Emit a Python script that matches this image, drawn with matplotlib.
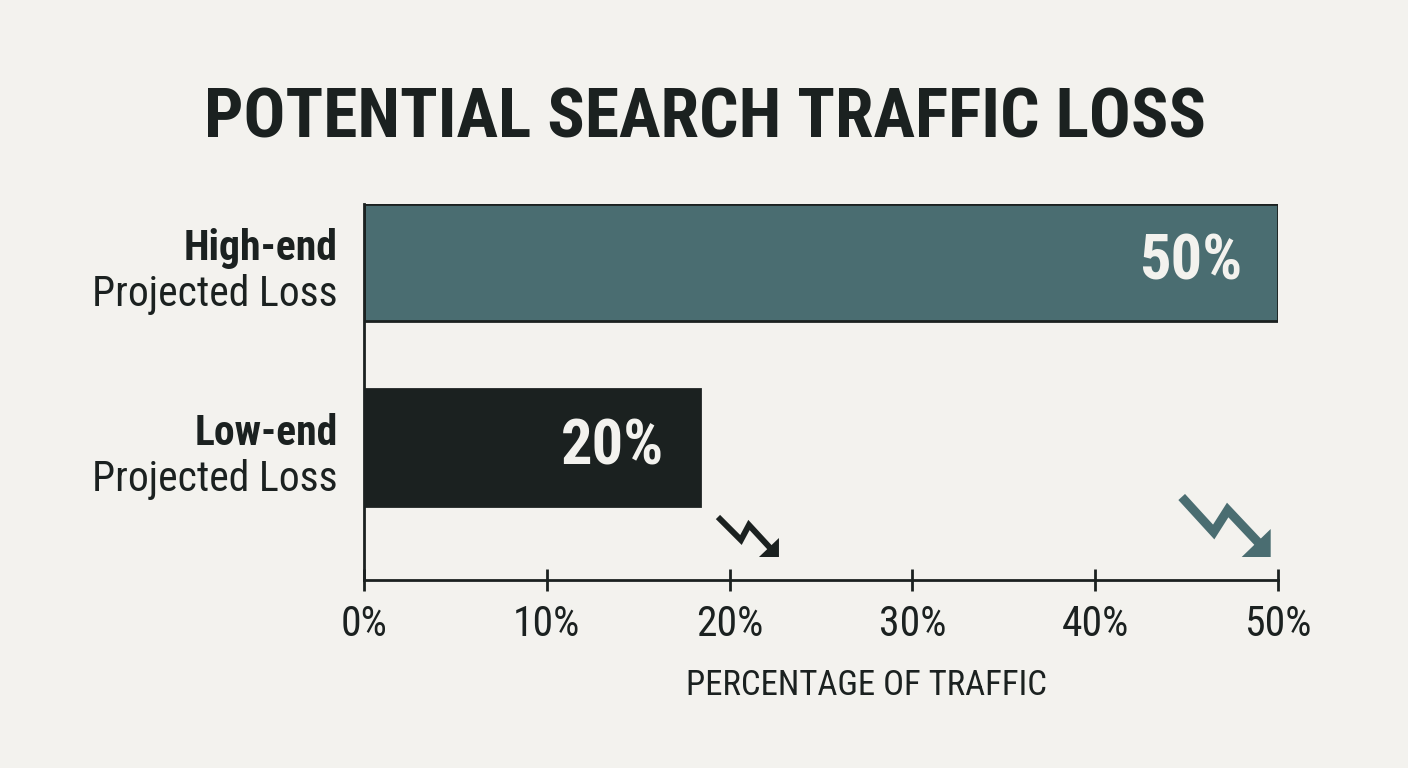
import numpy as np
import matplotlib.pyplot as plt
import matplotlib.transforms as mtransforms
from matplotlib import font_manager

# data
categories = ['Low-end', 'High-end']
bar_values = [18.4, 50]
value_labels = ['20%', '50%']
tick_values = [0, 10, 20, 30, 40, 50]
tick_labels = ['0%', '10%', '20%', '30%', '40%', '50%']

bg = '#f3f2ee'
ink = '#1b2120'
teal = '#4a6d71'
bar_colors = [ink, teal]

names = {f.name for f in font_manager.fontManager.ttflist}
fam = 'Roboto Condensed' if 'Roboto Condensed' in names else 'Roboto'
plt.rcParams['font.family'] = [fam, 'DejaVu Sans']

fig = plt.figure(figsize=(14.08, 7.68), dpi=100, facecolor=bg)
ax = fig.add_axes([364/1408, 1-580/768, (1278-364)/1408, (580-204)/768])
ax.set_facecolor(bg)

ypos = np.arange(len(categories))
ax.barh(ypos, bar_values, height=0.632, color=bar_colors, edgecolor=ink, linewidth=2)
ax.set_xlim(0, 50)
ax.set_ylim(-0.716, 1.316)

for y, v, lab in zip(ypos, bar_values, value_labels):
    ax.annotate(lab, (v, y), xytext=(-26, 0), textcoords='offset points',
                ha='right', va='center', color='#f3f2ee', fontsize=45, fontweight='bold')

for s in ['top', 'right']:
    ax.spines[s].set_visible(False)
for s in ['left', 'bottom']:
    ax.spines[s].set_linewidth(2)
    ax.spines[s].set_color(ink)

ax.set_xticks(tick_values)
ax.set_xticklabels(tick_labels, fontsize=30, color=ink)
ax.tick_params(axis='x', direction='inout', length=16, width=2, color=ink, pad=9)
ax.set_yticks([])

# category labels, left of the axis
for y, cat in zip(ypos, categories):
    ax.annotate(cat, (0, y), xytext=(-19, 1.5), textcoords='offset points',
                ha='right', va='baseline', fontsize=30, fontweight='bold', color=ink)
    ax.annotate('Projected Loss', (0, y), xytext=(-19, -31), textcoords='offset points',
                ha='right', va='baseline', fontsize=30, color=ink)

fig.text(867/1408, 1-695/768, 'PERCENTAGE OF TRAFFIC', ha='center', va='baseline',
         fontsize=25, color=ink)
fig.text(705/1408, 1-138/768, 'POTENTIAL SEARCH TRAFFIC LOSS', ha='center', va='baseline',
         fontsize=50, fontweight='bold', color=ink)

# small zigzag "down" arrows near the bar ends (shape in inches, tip anchored in data)
def zigzag(x_tip, color, pts, head, lw):
    tr = fig.dpi_scale_trans + mtransforms.ScaledTranslation(x_tip, -0.716, ax.transData)
    tr = tr + mtransforms.ScaledTranslation(0, 23/100, fig.dpi_scale_trans)
    pts = np.array(pts) / 100.0
    ax.plot(pts[:, 0], pts[:, 1], color=color, lw=lw, transform=tr, clip_on=False,
            solid_joinstyle='miter', solid_capstyle='butt')
    h = np.array(head) / 100.0
    ax.fill(h[:, 0], h[:, 1], color=color, transform=tr, clip_on=False, lw=0)

zigzag(bar_values[0] + 4.3, ink,
       [(-61, 40), (-38, 17), (-30, 32), (-6, 6)], [(0, 0), (0, 19), (-20, 0)], 4.3)
zigzag(bar_values[1] - 0.4, teal,
       [(-89, 60), (-57, 25), (-43, 47), (-10, 12)], [(0, 0), (0, 28), (-29, 0)], 6.5)

fig.savefig('out.png', dpi=100, facecolor=bg)
